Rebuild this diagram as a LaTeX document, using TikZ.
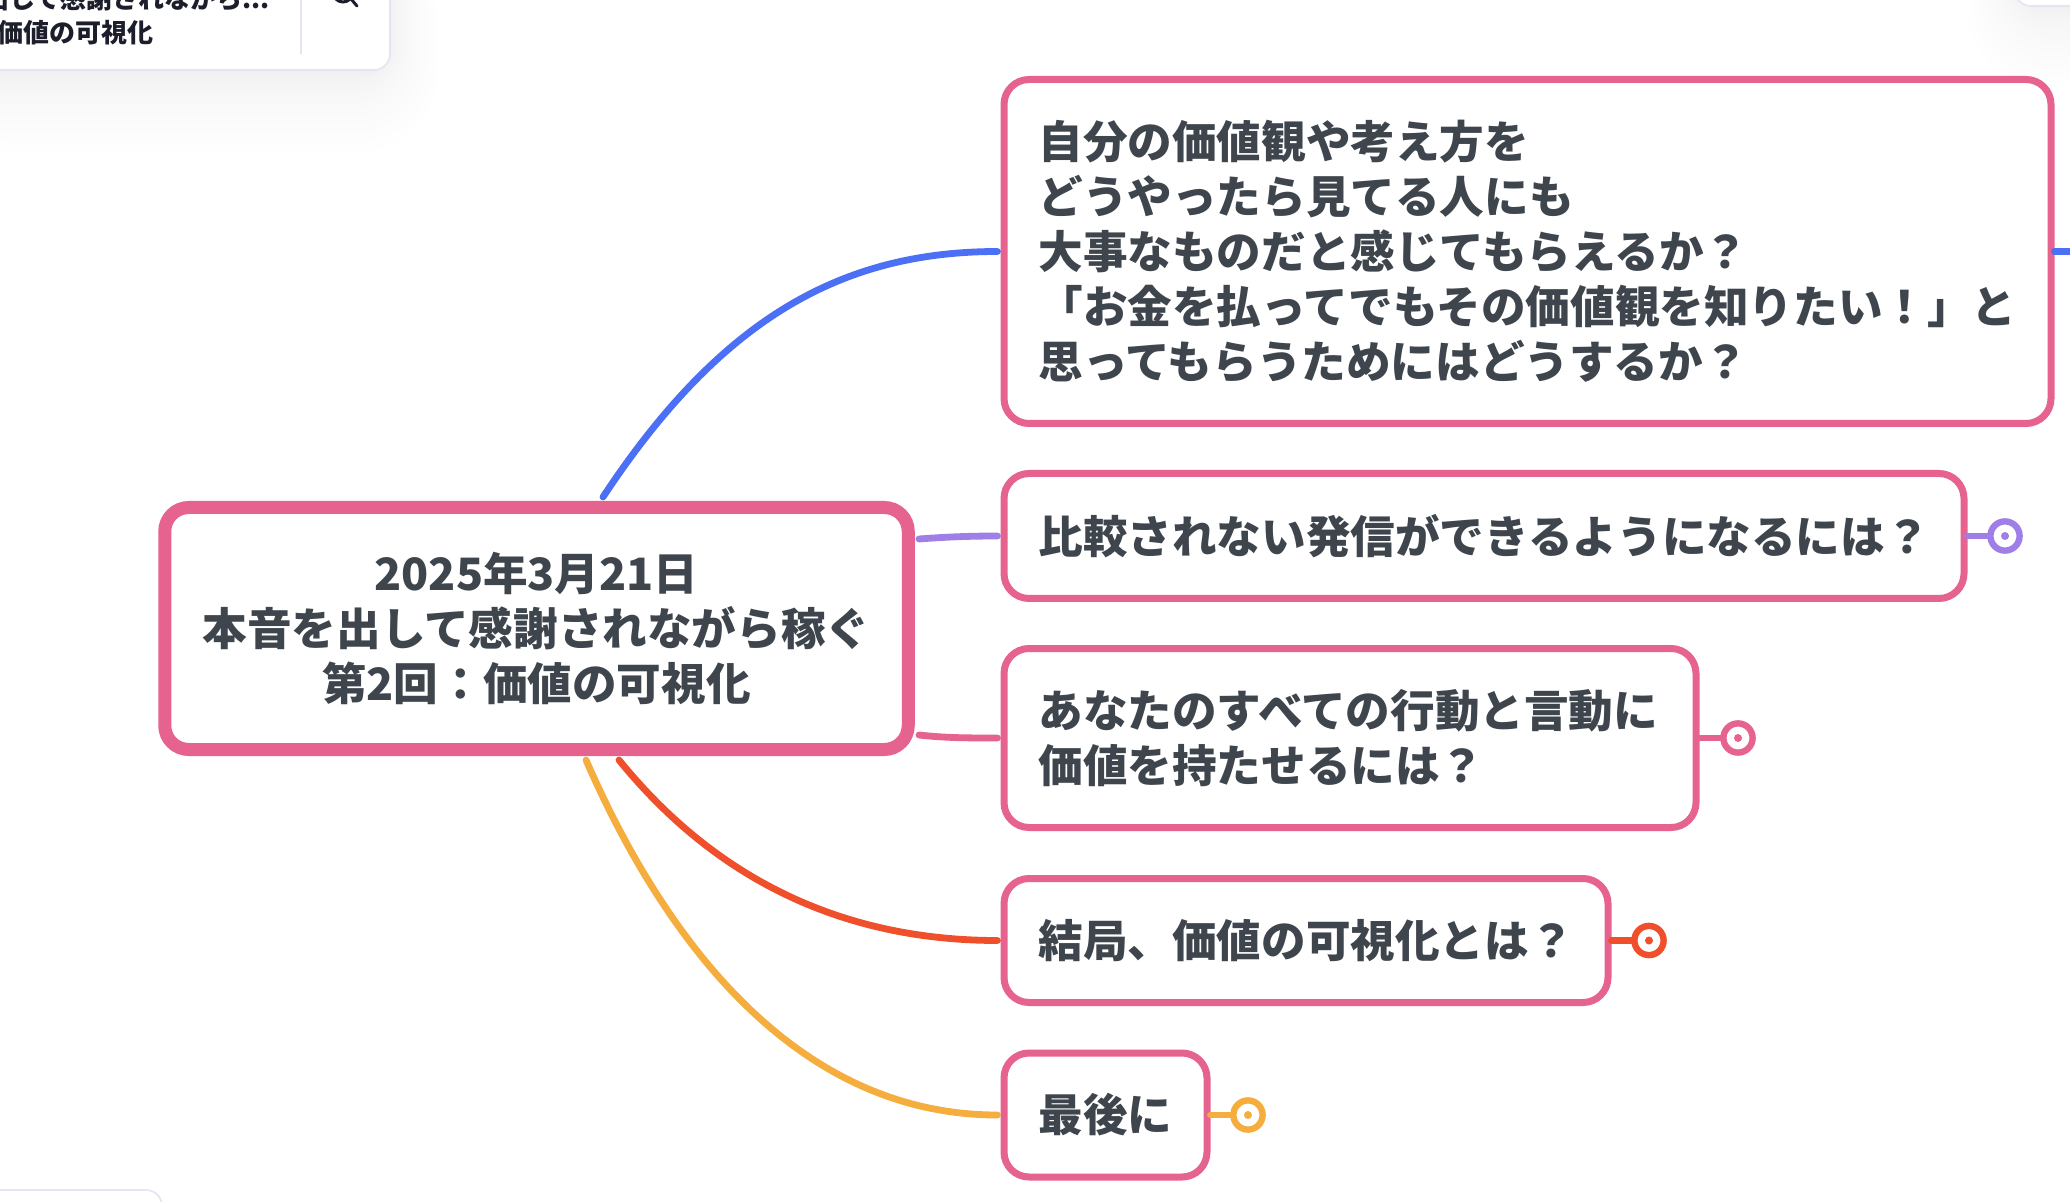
\documentclass[tikz,border=0pt]{standalone}
\usepackage{fontspec}
\usepackage{xcolor}
\usetikzlibrary{shapes,calc}
\newfontfamily\jpfont{Noto Sans CJK JP}
\definecolor{mapink}{HTML}{E6628F}
\definecolor{mapblue}{HTML}{4B70F5}
\definecolor{mapviolet}{HTML}{A07EE8}
\definecolor{mapred}{HTML}{EF4F2B}
\definecolor{maporange}{HTML}{F5AE3E}
\definecolor{maptext}{HTML}{3E454C}
\definecolor{cardline}{HTML}{E6E3F2}
\definecolor{cardtext}{HTML}{1C1E2B}
\tikzset{
  rootbox/.style={draw=mapink,line width=6.5pt,rounded corners=12pt,fill=white,align=center,
    text=maptext,font=\jpfont\bfseries\fontsize{22.3}{27.5}\selectfont,
    minimum width=371.75pt,minimum height=121pt},
  branchbox/.style={draw=mapink,line width=3.5pt,rounded corners=12.5pt,fill=white,align=left,
    text=maptext,font=\jpfont\bfseries\fontsize{22.3}{27.5}\selectfont,
    inner xsep=17.25pt,anchor=west},
  link/.style={line width=3.4pt,line cap=round},
  spoke/.style={link,shorten >=1.5pt},
  knob/.style={circle,draw=#1,fill=white,line width=3.2pt,minimum size=14.6pt,inner sep=0pt},
  cardbox/.style={draw=cardline,line width=0.8pt,fill=white,rounded corners=8pt},
  cardlabel/.style={text=cardtext,anchor=east,inner sep=0pt,font=\jpfont\bfseries\fontsize{13}{16}\selectfont}
}
\begin{document}
\begin{tikzpicture}[x=0.5pt,y=-0.5pt]
    \useasboundingbox (0,0) rectangle (2070,1202);
    \fill [white] (0,0) rectangle (2070,1202);

    % Soft shadows of the three cards
    \foreach \s in {1,...,16} {
      \pgfmathsetmacro\e{\s*\s/16}
      \fill [black,opacity=0.005,rounded corners=8pt+2*\s pt]
        (-60,-60) rectangle (390+3*\e,72+5*\e);
      \fill [black,opacity=0.005,rounded corners=8pt+2*\s pt]
        (2015-3*\e,-60) rectangle (2130,7+5*\e);
      \fill [black,opacity=0.0015,rounded corners=8pt+2*\s pt]
        (-60,1190-3*\e) rectangle (162+3*\e,1260);
    }

    % Cards at the edges
    \draw [cardbox] (-60,-60) rectangle (390,70);
    \draw [cardbox] (2015,-60) rectangle (2130,6);
    \draw [cardbox] (-60,1190) rectangle (162,1260);
    \node [cardlabel] (cardtop) at (270,-2) {本音を出して感謝されながら...};
    \node [cardlabel] (cardsub) at (154,33) {第2回：価値の可視化};
    \draw [cardline,line width=1pt] (301,-10) -- (301,54);
    \draw [cardtext,line width=1.5pt] (343,-8) circle (10);
    \draw [cardtext,line width=1.5pt,line cap=round] (351,-1) -- (357,6);

    \node [rootbox] (root) at (536.5,628.5) {2025年3月21日\\本音を出して感謝されながら稼ぐ\\第2回：価値の可視化};

    \node [branchbox,text width=489pt,minimum height=172pt] (valueview) at (1000.5,251.5) {自分の価値観や考え方を\\どうやったら見てる人にも\\大事なものだと感じてもらえるか？\\「お金を払ってでもその価値観を知りたい！」と\\思ってもらうためにはどうするか？};
    \node [branchbox,text width=445.5pt,minimum height=62.5pt] (compare) at (1000.5,536) {比較されない発信ができるようになるには？};
    \node [branchbox,text width=311.5pt,minimum height=89.5pt] (action) at (1000.5,738) {あなたのすべての行動と言動に\\価値を持たせるには？};
    \node [branchbox,text width=267.5pt,minimum height=62pt] (meaning) at (1000.5,940.5) {結局、価値の可視化とは？};
    \node [branchbox,text width=67pt,minimum height=62pt] (last) at (1000.5,1115) {最後に};

    \coordinate (exitblue) at (603,497);
    \coordinate (exitviolet) at (919,539);
    \coordinate (exitpink) at (919,735);
    \coordinate (exitred) at (619,760);
    \coordinate (exitorange) at (586,760);
    \coordinate (offpage) at (2070,251.5);

    \draw [spoke,mapblue] (exitblue) .. controls (720,320) and (840,251.5) .. (valueview.west);
    \draw [spoke,mapviolet] (exitviolet) .. controls (945,537) and (970,536) .. (compare.west);
    \draw [spoke,mapink] (exitpink) .. controls (945,738) and (970,738) .. (action.west);
    \draw [spoke,mapred] (exitred) .. controls (700,860) and (820,940.5) .. (meaning.west);
    \draw [spoke,maporange] (exitorange) .. controls (660,930) and (790,1115) .. (last.west);
    \draw [link,mapblue] (valueview.east) -- (offpage);

    % Closed branch markers
    \node [knob=mapviolet] (knobviolet) at (2005,536) {};
    \node [knob=mapink] (knobpink) at (1738,738) {};
    \node [knob=mapred] (knobred) at (1649,940.5) {};
    \node [knob=maporange] (knoborange) at (1248,1115) {};
    \draw [link,mapviolet] (compare.east) -- (knobviolet);
    \draw [link,mapink] (action.east) -- (knobpink);
    \draw [link,mapred] (meaning.east) -- (knobred);
    \draw [link,maporange] (last.east) -- (knoborange);
    \fill [mapviolet] (knobviolet) circle (4);
    \fill [mapink] (knobpink) circle (4);
    \fill [mapred] (knobred) circle (4);
    \fill [maporange] (knoborange) circle (4);
\end{tikzpicture}
\end{document}
